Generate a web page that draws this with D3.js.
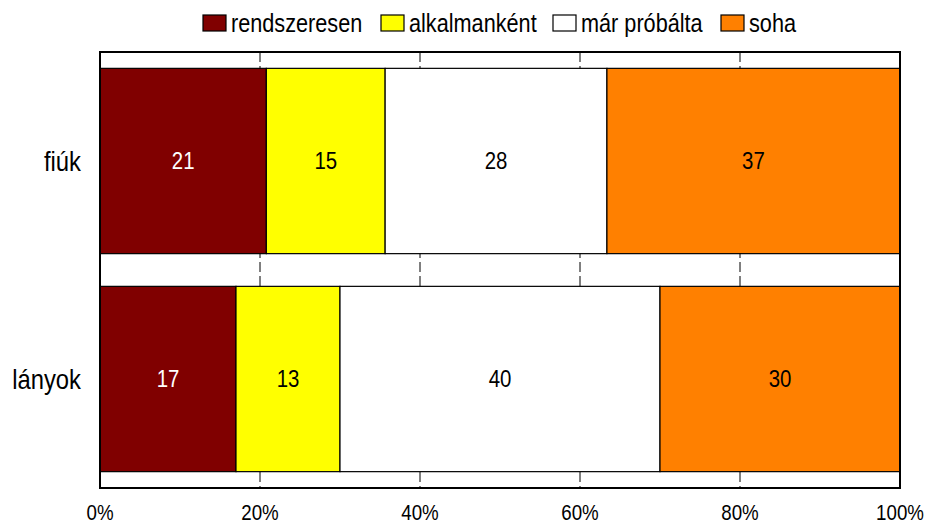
<!DOCTYPE html>
<html>
<head>
<meta charset="utf-8">
<script src="https://cdn.jsdelivr.net/npm/d3@7"></script>
<style>
  body { margin: 0; background: #fff; }
  text { font-family: "Liberation Sans", Arial, sans-serif; }
</style>
</head>
<body>
<script>
// data
const groups = ["fiúk", "lányok"];
const seriesNames = ["rendszeresen", "alkalmanként", "már próbálta", "soha"];
const fiuk = [21, 15, 28, 37];
const lanyok = [17, 13, 40, 30];
const colors = ["#800000", "#ffff00", "#ffffff", "#ff8000"];
const labelColors = ["#ffffff", "#000000", "#000000", "#000000"];
const ticks = [0, 20, 40, 60, 80, 100];

const W = 929, H = 529;
const NARROW = 0.85; // the original font is a condensed sans
let margin = {top: 52, right: 29, bottom: 41, left: 100};
let width = W - margin.left - margin.right;
let height = H - margin.top - margin.bottom;

// place text at (x,y) squeezed horizontally
function at(x, y) {
  return "translate(" + x + "," + y + ") scale(" + NARROW + ",1)";
}

let svg = d3.select("body").append("svg")
    .attr("width", W)
    .attr("height", H);
let g = svg.append("g")
    .attr("transform", "translate(" + margin.left + "," + margin.top + ")");

let xScale = d3.scaleLinear().domain([0, 100]).range([0, width]);
let yScale = d3.scaleBand().domain(groups).range([0, height])
    .paddingInner(0.15).paddingOuter(0.075);

// dashed grid
g.selectAll(".grid")
    .data(ticks.slice(1, -1))
  .enter().append("line")
    .attr("x1", d => xScale(d)).attr("x2", d => xScale(d))
    .attr("y1", 0).attr("y2", height)
    .attr("stroke", "#000")
    .attr("stroke-width", 1)
    .attr("stroke-dasharray", "10,4");

// stack each row as percentage of its own total
let rows = [fiuk, lanyok].map(function(vals, i) {
  let total = d3.sum(vals), acc = 0;
  return vals.map(function(v, j) {
    let seg = {group: groups[i], k: j, v: v, x0: acc / total * 100};
    acc += v;
    seg.x1 = acc / total * 100;
    return seg;
  });
});
let segs = rows.flat();

g.selectAll(".seg")
    .data(segs)
  .enter().append("rect")
    .attr("x", d => xScale(d.x0))
    .attr("y", d => yScale(d.group))
    .attr("width", d => xScale(d.x1) - xScale(d.x0))
    .attr("height", yScale.bandwidth())
    .attr("fill", d => colors[d.k])
    .attr("stroke", "#000")
    .attr("stroke-width", 1.2);

g.selectAll(".val")
    .data(segs)
  .enter().append("text")
    .attr("transform", d => at(xScale((d.x0 + d.x1) / 2), yScale(d.group) + yScale.bandwidth() / 2))
    .attr("dy", "0.35em")
    .attr("text-anchor", "middle")
    .attr("font-size", 24)
    .attr("fill", d => labelColors[d.k])
    .text(d => d.v);

// frame
g.append("rect")
    .attr("width", width).attr("height", height)
    .attr("fill", "none")
    .attr("stroke", "#000")
    .attr("stroke-width", 2);

// x tick labels
g.selectAll(".xt")
    .data(ticks)
  .enter().append("text")
    .attr("transform", d => at(xScale(d), height + 32))
    .attr("text-anchor", "middle")
    .attr("font-size", 22)
    .text(d => d + "%");

// category labels
g.selectAll(".yl")
    .data(groups)
  .enter().append("text")
    .attr("transform", d => at(-19, yScale(d) + yScale.bandwidth() / 2))
    .attr("dy", "0.35em")
    .attr("text-anchor", "end")
    .attr("font-size", 28)
    .text(d => d);

// legend
let legendX = [203, 381, 553, 721];
let leg = svg.selectAll(".leg")
    .data(seriesNames)
  .enter().append("g")
    .attr("transform", (d, i) => "translate(" + legendX[i] + ",15)");
leg.append("rect")
    .attr("width", 23).attr("height", 16)
    .attr("fill", (d, i) => colors[i])
    .attr("stroke", "#000")
    .attr("stroke-width", 1.2);
leg.append("text")
    .attr("transform", at(28, 8))
    .attr("dy", "0.35em")
    .attr("font-size", 25.5)
    .text(d => d);
</script>
</body>
</html>
